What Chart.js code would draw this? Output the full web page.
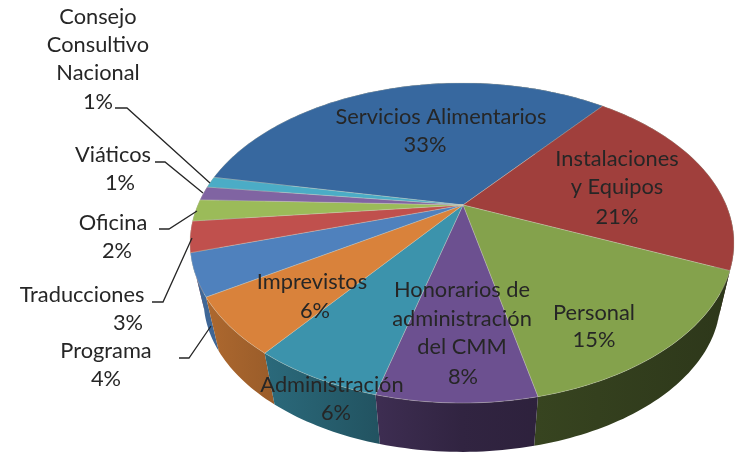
<!DOCTYPE html>
<html>
<head>
<meta charset="utf-8">
<style>html,body{margin:0;padding:0;background:#fff}canvas{display:block}</style>
<script src="https://cdn.jsdelivr.net/npm/chart.js@4"></script>
</head>
<body>
<canvas id="c" width="742" height="453"></canvas>
<script>
const categories = ["Servicios Alimentarios","Instalaciones y Equipos","Personal","Honorarios de administración del CMM","Administración","Imprevistos","Programa","Traducciones","Oficina","Viáticos","Consejo Consultivo Nacional"];
const shares = [32.8,20.6,15,7.6,6.3,5.7,4.2,3.1,2.2,1.4,1.1];
const colors = ["#37689F","#A03F3C","#84A24C","#6C5090","#3C93AC","#D9823B","#4F81BD","#C0504D","#9BBB59","#8064A2","#4BACC6"];
const firstSliceAngle = 281;

// label text lines: [line text or null for the percentage, centre x, centre y]
const labelLines = [
  [["Servicios Alimentarios",441,117],[null,425,145]],
  [["Instalaciones",617,159],["y Equipos",617,187],[null,617,217]],
  [["Personal",594,313],[null,594,340]],
  [["Honorarios de",462,290],["administración",462,319],["del CMM",462,347],[null,463,377]],
  [["Administración",332,385],[null,336,413]],
  [["Imprevistos",312,282],[null,315,311]],
  [["Programa",106,351],[null,106,379]],
  [["Traducciones",82,295],[null,128,323]],
  [["Oficina",113,223],[null,117,251]],
  [["Viáticos",113,155],[null,120,183]],
  [["Consejo",98,17],["Consultivo",98,45],["Nacional",98,73],[null,98,102]]
];
const leaders = [
  [[179,358],[189,358],[211,326]],
  [[152,302],[163,302],[192,238]],
  [[159,229],[169,229],[197,211]],
  [[155,162],[165,162],[203,193]],
  [[115,108],[127,108],[210,183]]
];

// perspective of the pie plane
const view = {cx:462, cy:205, a:264.2, b:151, p:0.2375, shrink:0.95, drop:69};
function project(angle){
  const u=Math.cos(angle), v=Math.sin(angle), w=1-view.p*v;
  return [view.cx+view.a*u/w, view.cy+view.b*v/w];
}
function lower(pt){
  return [view.cx+(pt[0]-view.cx)*view.shrink, pt[1]*view.shrink+view.drop];
}
function shade(hex,f){
  const n=parseInt(hex.slice(1),16);
  return "rgb("+[(n>>16)&255,(n>>8)&255,n&255].map(c=>Math.round(c*f)).join(",")+")";
}
function rimPoints(arc){
  const n=Math.max(2,Math.ceil((arc.endAngle-arc.startAngle)/0.02)), pts=[];
  for(let k=0;k<=n;k++) pts.push(project(arc.startAngle+(arc.endAngle-arc.startAngle)*k/n));
  return pts;
}

const pie3d = {
  id:"pie3d",
  beforeDatasetsDraw(chart){
    const ctx=chart.ctx, arcs=chart.getDatasetMeta(0).data;
    const order=arcs.slice().sort((s,t)=>Math.sin((s.startAngle+s.endAngle)/2)-Math.sin((t.startAngle+t.endAngle)/2));
    order.forEach(arc=>{
      const pts=rimPoints(arc), base=arc.options.backgroundColor;
      const g=ctx.createLinearGradient(view.cx-272,0,view.cx+272,0);
      g.addColorStop(0,shade(base,0.82));
      g.addColorStop(0.5,shade(base,0.45));
      g.addColorStop(1,shade(base,0.34));
      ctx.beginPath();
      pts.forEach((pt,i)=>i?ctx.lineTo(pt[0],pt[1]):ctx.moveTo(pt[0],pt[1]));
      pts.slice().reverse().forEach(pt=>{const q=lower(pt);ctx.lineTo(q[0],q[1]);});
      ctx.closePath();
      ctx.fillStyle=g;ctx.fill();
    });
    arcs.forEach(arc=>{
      ctx.beginPath();ctx.moveTo(view.cx+1,view.cy);
      rimPoints(arc).forEach(pt=>ctx.lineTo(pt[0],pt[1]));
      ctx.closePath();
      ctx.fillStyle=arc.options.backgroundColor;ctx.fill();
      ctx.strokeStyle="rgba(205,205,190,0.35)";ctx.lineWidth=1;ctx.stroke();
    });
    return false;
  },
  afterDraw(chart){
    const ctx=chart.ctx;
    ctx.strokeStyle="#262626";ctx.lineWidth=1.3;
    leaders.forEach(l=>{
      ctx.beginPath();
      l.forEach((pt,i)=>i?ctx.lineTo(pt[0],pt[1]):ctx.moveTo(pt[0],pt[1]));
      ctx.stroke();
    });
    ctx.fillStyle="#262626";ctx.font='21.8px Lato';ctx.textAlign="center";ctx.textBaseline="middle";
    labelLines.forEach((lines,i)=>{
      lines.forEach(line=>{
        const txt=line[0]===null?Math.round(shares[i])+"%":line[0];
        ctx.fillText(txt,line[1],line[2]);
      });
    });
  }
};

new Chart(document.getElementById("c"),{
  type:"pie",
  data:{labels:categories,datasets:[{data:shares,backgroundColor:colors}]},
  options:{
    responsive:false,animation:false,rotation:firstSliceAngle,
    plugins:{legend:{display:false},tooltip:{enabled:false}}
  },
  plugins:[pie3d]
});
</script>
</body>
</html>
